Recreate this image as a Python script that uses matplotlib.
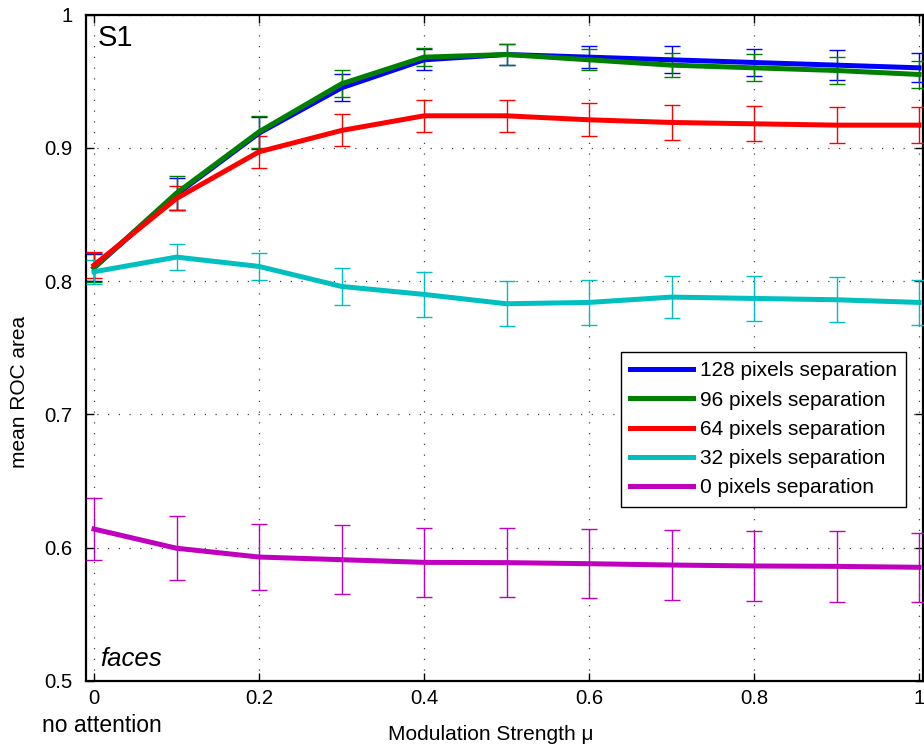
import matplotlib
matplotlib.use("Agg")
import matplotlib.pyplot as plt

plt.rcParams['font.family'] = ['Liberation Sans', 'DejaVu Sans']

mu = [0.0, 0.1, 0.2, 0.3, 0.4, 0.5, 0.6, 0.7, 0.8, 0.9, 1.0]

sep128 = [0.810, 0.865, 0.911, 0.945, 0.966, 0.970, 0.968, 0.966, 0.964, 0.962, 0.960]
sep128_err = [0.010, 0.012, 0.012, 0.010, 0.008, 0.008, 0.008, 0.010, 0.010, 0.011, 0.011]
sep96 = [0.810, 0.866, 0.912, 0.948, 0.968, 0.970, 0.966, 0.962, 0.960, 0.958, 0.955]
sep96_err = [0.011, 0.0125, 0.012, 0.010, 0.007, 0.008, 0.008, 0.009, 0.010, 0.010, 0.010]
sep64 = [0.812, 0.862, 0.897, 0.913, 0.924, 0.924, 0.921, 0.919, 0.918, 0.917, 0.917]
sep64_err = [0.010, 0.009, 0.012, 0.012, 0.012, 0.012, 0.0125, 0.013, 0.013, 0.0135, 0.0135]
sep32 = [0.807, 0.818, 0.811, 0.796, 0.790, 0.783, 0.784, 0.788, 0.787, 0.786, 0.784]
sep32_err = [0.009, 0.010, 0.010, 0.014, 0.017, 0.017, 0.017, 0.016, 0.017, 0.017, 0.017]
sep0 = [0.614, 0.5996, 0.593, 0.591, 0.589, 0.5888, 0.588, 0.587, 0.5863, 0.586, 0.5853]
sep0_err = [0.023, 0.024, 0.025, 0.026, 0.026, 0.026, 0.026, 0.0265, 0.0265, 0.0265, 0.026]

labels = ['128 pixels separation', '96 pixels separation', '64 pixels separation',
          '32 pixels separation', '0 pixels separation']
colors = [(0, 0, 1), (0, 0.5, 0), (1, 0, 0), (0, 0.75, 0.75), (0.75, 0, 0.75)]
series = [(sep128, sep128_err), (sep96, sep96_err), (sep64, sep64_err),
          (sep32, sep32_err), (sep0, sep0_err)]

xticks = [0, 0.2, 0.4, 0.6, 0.8, 1.0]
xticklabels = ['0', '0.2', '0.4', '0.6', '0.8', '1']
yticks = [0.5, 0.6, 0.7, 0.8, 0.9, 1.0]
yticklabels = ['0.5', '0.6', '0.7', '0.8', '0.9', '1']

W, H = 924, 746
fig = plt.figure(figsize=(W / 100, H / 100), dpi=100)
left, right, top, bottom = 86, 923, 14.5, 681
ax = fig.add_axes([left / W, 1 - bottom / H, (right - left) / W, (bottom - top) / H])

handles = []
for (vals, errs), c, lab in zip(series, colors, labels):
    ax.errorbar(mu, vals, yerr=errs, color=c, ecolor=c, elinewidth=1.0,
                capsize=6, capthick=1.0, lw=3.6, zorder=3)
    h, = ax.plot([], [], color=c, lw=3.6, label=lab)
    handles.append(h)

ax.set_xlim(-0.0097, 1.0048)
ax.set_ylim(0.5, 1.0)
ax.set_xticks(xticks)
ax.set_xticklabels(xticklabels)
ax.set_yticks(yticks)
ax.set_yticklabels(yticklabels)
ax.tick_params(direction='in', length=6, width=1, top=True, right=True,
               labelsize=14.6, colors='black')
ax.tick_params(axis='y', pad=9.5)
ax.tick_params(axis='x', pad=5.5)
ax.grid(True, color='#444444', linestyle=(0, (1, 7.6)), lw=0.9)
for s in ax.spines.values():
    s.set_linewidth(1.6)
    s.set_color('black')

leg = ax.legend(handles=handles, loc='upper right', bbox_to_anchor=(0.980, 0.4936),
                borderaxespad=0, fontsize=15, handlelength=3.0, handletextpad=0.35,
                labelspacing=0.49, borderpad=0.45, fancybox=False, framealpha=1,
                edgecolor='black')
leg.get_frame().set_linewidth(1.0)

ax.text(0.0143, 0.985, 'S1', transform=ax.transAxes, fontsize=21, ha='left', va='top')
ax.text(0.0167, 0.0225, 'faces', transform=ax.transAxes, fontsize=18.5, style='italic',
        ha='left', va='baseline')
ax.text(0.0097, -0.0765, 'no attention', transform=ax.get_xaxis_transform(),
        fontsize=16.5, ha='center', va='baseline')
ax.text(0.483, -0.0885, 'Modulation Strength μ', transform=ax.transAxes,
        fontsize=15, ha='center', va='baseline')
ax.text(-0.080, 0.4343, 'mean ROC area', transform=ax.transAxes, fontsize=15,
        rotation=90, ha='center', va='center')

fig.savefig('out.png', dpi=100)
